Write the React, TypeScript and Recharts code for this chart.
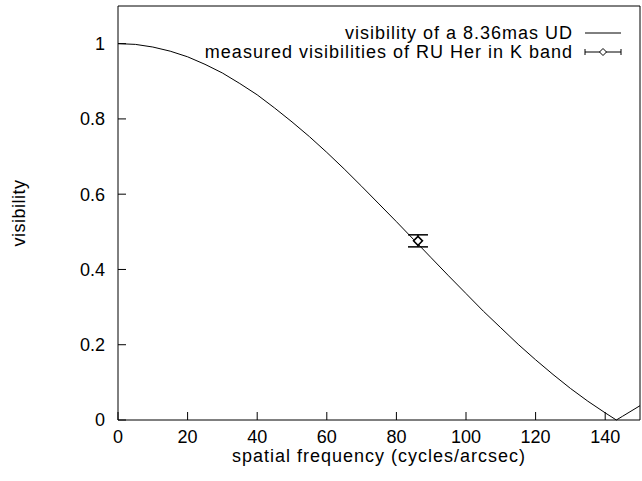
import {
  ComposedChart,
  Line,
  Scatter,
  ErrorBar,
  XAxis,
  YAxis,
  Legend,
} from 'recharts';

// uniform disk model curve
const freq = [0, 5, 10, 15, 20, 25, 30, 35, 40, 45, 50, 55, 60, 65, 70, 75, 80, 85, 90, 95, 100, 105, 110, 115, 120, 125, 130, 135, 140, 143.2, 145, 150];
const udVis = [1, 0.998, 0.991, 0.98, 0.965, 0.945, 0.922, 0.894, 0.864, 0.829, 0.792, 0.753, 0.711, 0.667, 0.621, 0.574, 0.527, 0.479, 0.431, 0.383, 0.336, 0.289, 0.245, 0.201, 0.16, 0.121, 0.084, 0.05, 0.019, 0, 0.01, 0.038];

// measured point
const measFreq = [86.2];
const measVis = [0.476];
const measErr = [0.016];

const xTicks = [0, 20, 40, 60, 80, 100, 120, 140];
const yTicks = [0, 0.2, 0.4, 0.6, 0.8, 1];

const curve = freq.map((f, i) => ({ f, v: udVis[i] }));
const measured = measFreq.map((f, i) => ({ f, v: measVis[i], err: measErr[i] }));

const FONT = '"Liberation Sans", Arial, sans-serif';
const tickStyle = { fontFamily: FONT, fontSize: 18, fill: '#000' };
const titleStyle = { fontFamily: FONT, fontSize: 18, letterSpacing: 1, fill: '#000' };

const Diamond = (props: any) => {
  const { cx, cy } = props;
  if (cx == null || cy == null) return null;
  const r = 4.5;
  return (
    <path
      d={`M${cx},${cy - r}L${cx + r},${cy}L${cx},${cy + r}L${cx - r},${cy}Z`}
      fill="#fff"
      stroke="#000"
      strokeWidth={1.5}
    />
  );
};

const LegendBox = () => (
  <svg width={642} height={70} style={{ display: 'block' }}>
    <g fontFamily={FONT} fontSize={18} letterSpacing={1} fill="#000">
      <text x={573} y={39} textAnchor="end">visibility of a 8.36mas UD</text>
      <text x={573} y={58} textAnchor="end">measured visibilities of RU Her in K band</text>
    </g>
    <line x1={585} x2={621} y1={33} y2={33} stroke="#000" />
    <line x1={585} x2={621} y1={52} y2={52} stroke="#000" />
    <line x1={585} x2={585} y1={49} y2={55} stroke="#000" />
    <line x1={621} x2={621} y1={49} y2={55} stroke="#000" />
    <path d="M603,48.5L606.5,52L603,55.5L599.5,52Z" fill="#fff" stroke="#000" />
  </svg>
);

export default function App() {
  return (
    <div style={{ position: 'absolute', left: 0, top: 0 }}>
      <ComposedChart
        width={642}
        height={481}
        margin={{ top: 5, right: 1, bottom: 11, left: 18 }}
      >
        <XAxis
          xAxisId="b"
          dataKey="f"
          type="number"
          domain={[0, 150]}
          ticks={xTicks}
          tickSize={-8}
          tickMargin={18}
          height={50}
          tick={tickStyle}
          axisLine={{ stroke: '#000' }}
          tickLine={{ stroke: '#000' }}
          label={{
            value: 'spatial frequency (cycles/arcsec)',
            position: 'center',
            dy: 11,
            style: titleStyle,
          }}
        />
        <XAxis
          xAxisId="t"
          orientation="top"
          dataKey="f"
          type="number"
          domain={[0, 150]}
          ticks={xTicks}
          tickSize={-8}
          height={1}
          tick={false}
          axisLine={{ stroke: '#000' }}
          tickLine={{ stroke: '#000' }}
        />
        <YAxis
          yAxisId="l"
          type="number"
          domain={[0, 1.1]}
          ticks={yTicks}
          tickSize={-8}
          tickMargin={21}
          width={100}
          tick={tickStyle}
          axisLine={{ stroke: '#000' }}
          tickLine={{ stroke: '#000' }}
          label={{
            value: 'visibility',
            angle: -90,
            position: 'center',
            dx: -49,
            style: { fontFamily: FONT, fontSize: 18, letterSpacing: 0.5, fill: '#000' },
          }}
        />
        <YAxis
          yAxisId="r"
          orientation="right"
          type="number"
          domain={[0, 1.1]}
          ticks={yTicks}
          tickSize={-8}
          width={1}
          tick={false}
          axisLine={{ stroke: '#000' }}
          tickLine={{ stroke: '#000' }}
        />
        <Line
          xAxisId="b"
          yAxisId="l"
          data={curve}
          dataKey="v"
          type="linear"
          stroke="#000"
          strokeWidth={1}
          dot={false}
          isAnimationActive={false}
        />
        <Scatter
          xAxisId="b"
          yAxisId="l"
          data={measured}
          dataKey="v"
          shape={<Diamond />}
          isAnimationActive={false}
        >
          <ErrorBar dataKey="err" direction="y" width={10} stroke="#000" strokeWidth={1.5} />
        </Scatter>
        <Legend
          layout="vertical"
          align="center"
          verticalAlign="middle"
          wrapperStyle={{ position: 'absolute', left: 0, top: 0, width: 642, height: 70 }}
          content={() => <LegendBox />}
        />
      </ComposedChart>
    </div>
  );
}
